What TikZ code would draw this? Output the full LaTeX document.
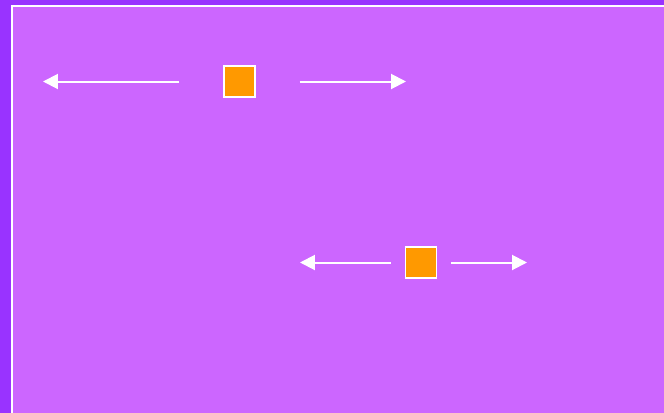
\documentclass[tikz,border=0pt]{standalone}
\usepackage{tikz}
\usetikzlibrary{positioning}
\usetikzlibrary{%
  calc,%
  arrows.meta%
}
\definecolor{outerpurple}{HTML}{9933FF}
\definecolor{innerpurple}{HTML}{CC66FF}
\definecolor{boxorange}{HTML}{FF9900}

\tikzset{
  box/.style={draw=white, fill=boxorange, line width=0.03cm, minimum size=0.62cm, inner sep=0pt},
  arr/.style={draw=white, line width=0.04cm, -{Triangle[length=0.3cm,width=0.3cm]}}
}

\begin{document}
\begin{tikzpicture}[x=0.02cm,y=-0.02cm]
% background and frame
\fill[outerpurple] (0,0) rectangle (664,413);
\fill[white] (11,5) rectangle (664,413);
\fill[innerpurple] (13,7) rectangle (664,413);
\useasboundingbox (0,0) rectangle (664,413);

\node[box] (top) at (239.5,81.5) {};
\node[box] (low) at (421,262.5) {};

\coordinate (topL) at (43,81.5);
\coordinate (topR) at (406,81.5);
\coordinate (lowL) at (300,262.5);
\coordinate (lowR) at (527,262.5);

\draw[arr, shorten <=0.88cm] (top.west) -- (topL);
\draw[arr, shorten <=0.88cm] (top.east) -- (topR);
\draw[arr, shorten <=0.28cm] (low.west) -- (lowL);
\draw[arr, shorten <=0.28cm] (low.east) -- (lowR);

\end{tikzpicture}
\end{document}
